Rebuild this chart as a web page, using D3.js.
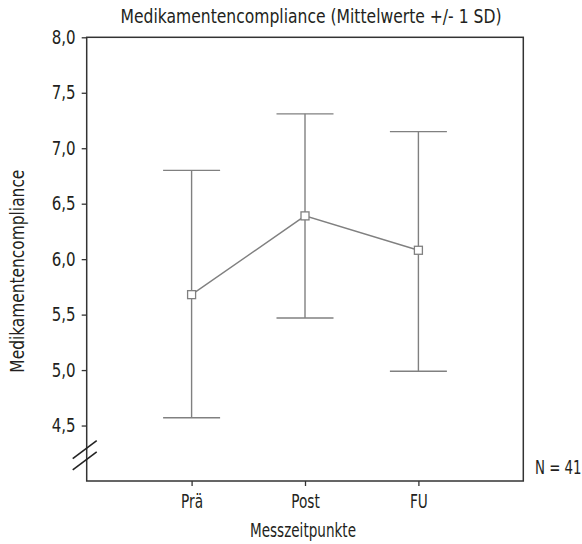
<!DOCTYPE html>
<html>
<head>
<meta charset="utf-8">
<script src="https://cdn.jsdelivr.net/npm/d3@7"></script>
<style>
  body { margin: 0; background: #fff; }
  text { font-family: "Liberation Sans Narrow", "DejaVu Sans Condensed", "Open Sans", sans-serif; fill: #231f20; }
</style>
</head>
<body>
<div id="chart"></div>
<script>
const categories = ['Prä', 'Post', 'FU']
const means = [5.68, 6.39, 6.08]
const upper = [6.80, 7.31, 7.15]
const lower = [4.57, 5.47, 4.99]
const yTicks = [4.5, 5.0, 5.5, 6.0, 6.5, 7.0, 7.5, 8.0]

const width = 582
const height = 544
const margin = {top: 37.3, right: 58.7, bottom: 63, left: 86.7}
const fontSize = 19
const axisColor = '#333'
const markColor = '#808080'

const svg = d3.select('#chart')
  .append('svg')
    .attr('width', width)
    .attr('height', height)

const x = d3.scalePoint()
  .domain(categories)
  .range([margin.left, width - margin.right])
  .padding(0.925)

const y = d3.scaleLinear()
  .domain([4.0, 8.0])
  .range([height - margin.bottom, margin.top])

const fmt = d => d.toFixed(1).replace('.', ',')

// squeeze the fallback font so it looks like the condensed original
const condense = (sel, k) => sel.each(function () {
  const len = this.getComputedTextLength()
  d3.select(this)
    .attr('textLength', len * k)
    .attr('lengthAdjust', 'spacingAndGlyphs')
})
const fitTo = (sel, w) => sel
  .attr('textLength', w)
  .attr('lengthAdjust', 'spacingAndGlyphs')

// frame
svg.append('rect')
  .attr('x', margin.left)
  .attr('y', margin.top)
  .attr('width', width - margin.left - margin.right)
  .attr('height', height - margin.top - margin.bottom)
  .attr('fill', 'none')
  .attr('stroke', axisColor)
  .attr('stroke-width', 1.5)

const styleAxis = (k, g) => {
  g.select('.domain').remove()
  g.selectAll('line').attr('stroke', axisColor).attr('stroke-width', 1.3)
  g.selectAll('text')
    .attr('fill', '#231f20')
    .style('font-size', fontSize + 'px')
    .style('font-family', '"Liberation Sans Narrow", "DejaVu Sans Condensed", sans-serif')
    .call(condense, k)
}

svg.append('g')
  .attr('transform', `translate(${margin.left},0)`)
  .call(d3.axisLeft(y).tickValues(yTicks).tickFormat(fmt).tickSize(5).tickPadding(6))
  .call(styleAxis.bind(null, 0.88))

svg.append('g')
  .attr('transform', `translate(0,${height - margin.bottom})`)
  .call(d3.axisBottom(x).tickSize(5).tickPadding(9))
  .call(styleAxis.bind(null, 0.8))

// axis break marks
const breaks = [4.3, 4.2]
svg.append('g').selectAll('line')
  .data(breaks)
  .join('line')
    .attr('x1', margin.left - 14)
    .attr('x2', margin.left + 10)
    .attr('y1', d => y(d) + 11)
    .attr('y2', d => y(d) - 7)
    .attr('stroke', '#222')
    .attr('stroke-width', 1.6)

// error bars
const capHalf = 28.5
const bars = svg.append('g')
  .attr('stroke', markColor)
  .attr('stroke-width', 1.4)
  .attr('fill', 'none')

bars.selectAll('.stem')
  .data(categories)
  .join('line')
    .attr('class', 'stem')
    .attr('x1', d => x(d))
    .attr('x2', d => x(d))
    .attr('y1', (d, i) => y(upper[i]))
    .attr('y2', (d, i) => y(lower[i]))

bars.selectAll('.capTop')
  .data(categories)
  .join('line')
    .attr('class', 'capTop')
    .attr('x1', d => x(d) - capHalf)
    .attr('x2', d => x(d) + capHalf)
    .attr('y1', (d, i) => y(upper[i]))
    .attr('y2', (d, i) => y(upper[i]))

bars.selectAll('.capBottom')
  .data(categories)
  .join('line')
    .attr('class', 'capBottom')
    .attr('x1', d => x(d) - capHalf)
    .attr('x2', d => x(d) + capHalf)
    .attr('y1', (d, i) => y(lower[i]))
    .attr('y2', (d, i) => y(lower[i]))

// mean line
const line = d3.line()
  .x((d, i) => x(categories[i]))
  .y(d => y(d))

svg.append('path')
  .datum(means)
  .attr('d', line)
  .attr('fill', 'none')
  .attr('stroke', markColor)
  .attr('stroke-width', 1.4)

const sq = 8
svg.append('g').selectAll('rect')
  .data(means)
  .join('rect')
    .attr('x', (d, i) => x(categories[i]) - sq / 2)
    .attr('y', d => y(d) - sq / 2)
    .attr('width', sq)
    .attr('height', sq)
    .attr('fill', '#fff')
    .attr('stroke', markColor)
    .attr('stroke-width', 1.3)

// texts
svg.append('text')
  .attr('x', 311)
  .attr('y', 23)
  .attr('text-anchor', 'middle')
  .style('font-size', fontSize + 'px')
  .text('Medikamentencompliance (Mittelwerte +/- 1 SD)')
  .call(fitTo, 381)

svg.append('text')
  .attr('x', 303)
  .attr('y', 537)
  .attr('text-anchor', 'middle')
  .style('font-size', fontSize + 'px')
  .text('Messzeitpunkte')
  .call(fitTo, 106)

svg.append('text')
  .attr('transform', `translate(24,${(margin.top + height - margin.bottom) / 2 + 12}) rotate(-90)`)
  .attr('text-anchor', 'middle')
  .style('font-size', fontSize + 'px')
  .text('Medikamentencompliance')
  .call(fitTo, 203)

// N label squeezed by a transform so its box stays inside the page
svg.append('text')
  .attr('transform', 'translate(535,474) scale(0.78,1)')
  .style('font-size', fontSize + 'px')
  .text('N = 41')
</script>
</body>
</html>
